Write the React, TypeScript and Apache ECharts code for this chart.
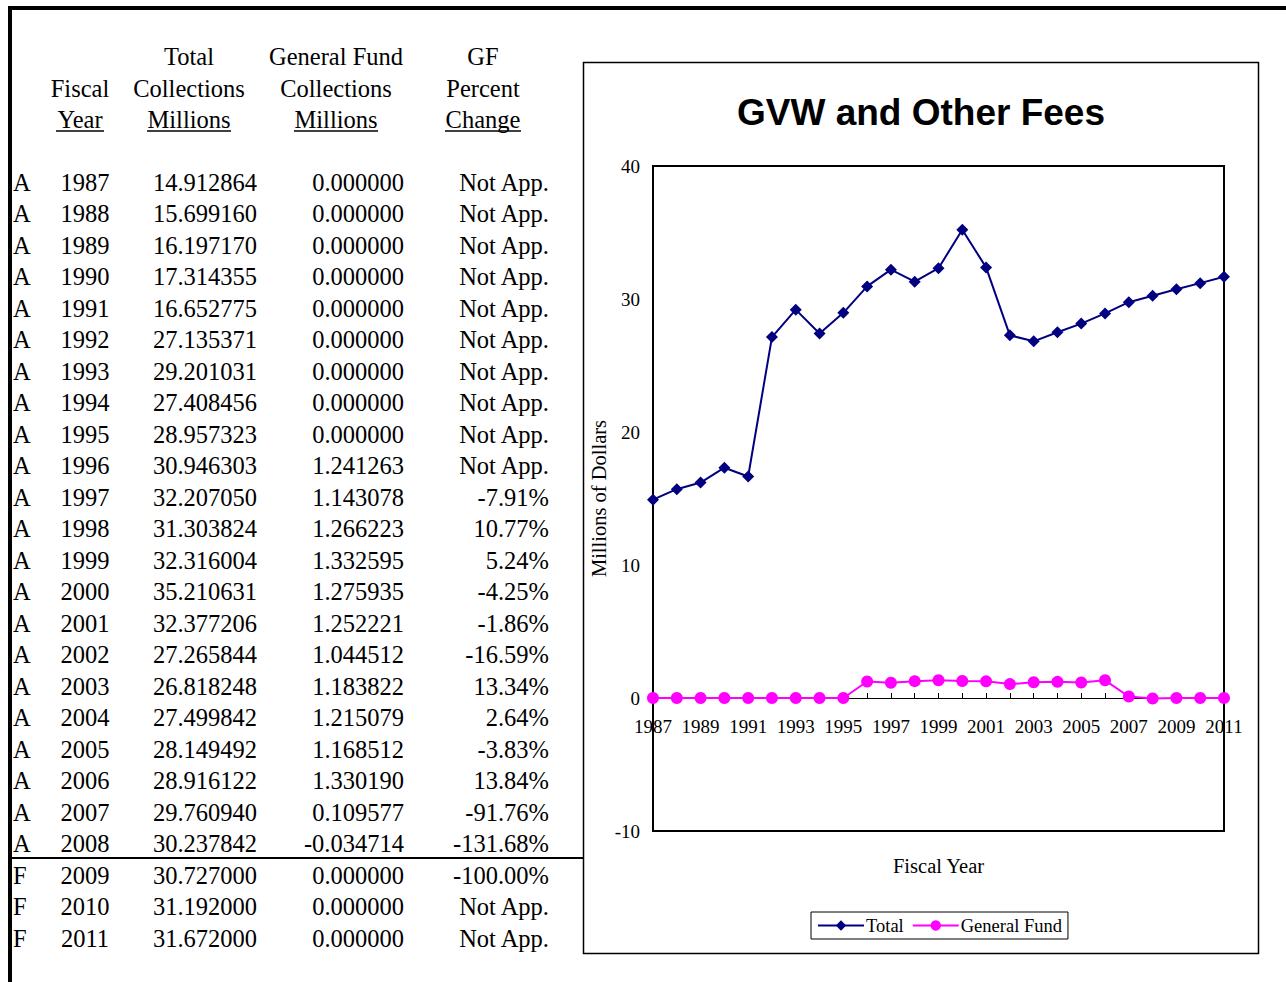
import React, { useEffect, useRef } from "react";
import * as echarts from "echarts";

const years = [
  "1987", "1988", "1989", "1990", "1991", "1992", "1993", "1994", "1995", "1996",
  "1997", "1998", "1999", "2000", "2001", "2002", "2003", "2004", "2005", "2006",
  "2007", "2008", "2009", "2010", "2011",
];
const statusCodes = [
  "A", "A", "A", "A", "A", "A", "A", "A", "A", "A",
  "A", "A", "A", "A", "A", "A", "A", "A", "A", "A",
  "A", "A", "F", "F", "F",
];
const totalCollections = [
  14.912864, 15.69916, 16.19717, 17.314355, 16.652775, 27.135371, 29.201031, 27.408456,
  28.957323, 30.946303, 32.20705, 31.303824, 32.316004, 35.210631, 32.377206, 27.265844,
  26.818248, 27.499842, 28.149492, 28.916122, 29.76094, 30.237842, 30.727, 31.192, 31.672,
];
const gfCollections = [
  0, 0, 0, 0, 0, 0, 0, 0, 0, 1.241263, 1.143078, 1.266223, 1.332595, 1.275935, 1.252221,
  1.044512, 1.183822, 1.215079, 1.168512, 1.33019, 0.109577, -0.034714, 0, 0, 0,
];
const gfPercentChange = [
  "Not App.", "Not App.", "Not App.", "Not App.", "Not App.", "Not App.", "Not App.",
  "Not App.", "Not App.", "Not App.", "-7.91%", "10.77%", "5.24%", "-4.25%", "-1.86%",
  "-16.59%", "13.34%", "2.64%", "-3.83%", "13.84%", "-91.76%", "-131.68%", "-100.00%",
  "Not App.", "Not App.",
];
const yTicks = { min: -10, max: 40, interval: 10 };

const SERIF = "'Liberation Serif', 'Times New Roman', serif";
const SANS = "'Liberation Sans', Arial, sans-serif";

const GRID_TOP = 166;
const GRID_H = 665;

export default function App() {
  const ref = useRef<HTMLDivElement>(null);

  useEffect(() => {
    if (!ref.current) return;
    const chart = echarts.init(ref.current, null, { renderer: "svg" });

    const tfs = 24.5;
    const txt = (text: string, x: number, y: number, align: string, extra: any = {}) => ({
      type: "text",
      x,
      y,
      style: {
        text,
        fill: "#000",
        font: `${tfs}px ${SERIF}`,
        textAlign: align,
        textVerticalAlign: "middle",
        ...extra,
      },
    });
    const uline = (cx: number, w: number) => ({
      type: "line",
      shape: { x1: cx - w / 2, y1: 131, x2: cx + w / 2, y2: 131 },
      style: { stroke: "#000", lineWidth: 1.5 },
    });

    const graphics: any[] = [
      { type: "rect", shape: { x: 8, y: 6, width: 1278, height: 4 }, style: { fill: "#000" } },
      { type: "rect", shape: { x: 8, y: 6, width: 4, height: 976 }, style: { fill: "#000" } },
      {
        type: "line",
        shape: { x1: 10, y1: 858, x2: 583, y2: 858 },
        style: { stroke: "#000", lineWidth: 2 },
      },
      {
        type: "rect",
        shape: { x: 583.5, y: 62.5, width: 675, height: 891 },
        style: { fill: "none", stroke: "#000", lineWidth: 1.5 },
      },
      txt("Total", 189, 56, "center"),
      txt("Collections", 189, 88, "center"),
      txt("Millions", 189, 119, "center"),
      uline(189, 84),
      txt("Fiscal", 80, 88, "center"),
      txt("Year", 80, 119, "center"),
      uline(80, 48),
      txt("General Fund", 336, 56, "center"),
      txt("Collections", 336, 88, "center"),
      txt("Millions", 336, 119, "center"),
      uline(336, 84),
      txt("GF", 483, 56, "center"),
      txt("Percent", 483, 88, "center"),
      txt("Change", 483, 119, "center"),
      uline(483, 76),
      {
        type: "text",
        x: 921,
        y: 112,
        style: {
          text: "GVW and Other Fees",
          fill: "#000",
          font: `bold 37px ${SANS}`,
          textAlign: "center",
          textVerticalAlign: "middle",
        },
      },
      {
        type: "text",
        x: 938.5,
        y: 866,
        style: {
          text: "Fiscal Year",
          fill: "#000",
          font: `20.5px ${SERIF}`,
          textAlign: "center",
          textVerticalAlign: "middle",
        },
      },
    ];

    years.forEach((yr, i) => {
      const y = 182 + i * 31.5;
      graphics.push(txt(statusCodes[i], 13, y, "left"));
      graphics.push(txt(yr, 85, y, "center"));
      graphics.push(txt(totalCollections[i].toFixed(6), 257, y, "right"));
      graphics.push(txt(gfCollections[i].toFixed(6), 404, y, "right"));
      graphics.push(txt(gfPercentChange[i], 549, y, "right"));
    });

    // distance of the zero line above the grid bottom, from the axis range
    const zeroOffset = (GRID_H * (0 - yTicks.min)) / (yTicks.max - yTicks.min);

    chart.setOption({
      animation: false,
      backgroundColor: "#fff",
      textStyle: { fontFamily: SERIF, color: "#000" },
      grid: {
        left: 653,
        top: GRID_TOP,
        width: 571,
        height: GRID_H,
        show: true,
        borderColor: "#000",
        borderWidth: 2,
        backgroundColor: "transparent",
      },
      legend: {
        left: 811,
        top: 912,
        orient: "horizontal",
        padding: [4, 6, 4, 6],
        itemGap: 8,
        itemWidth: 46,
        itemHeight: 13,
        borderColor: "#000",
        borderWidth: 1,
        textStyle: { fontSize: 18.5, fontFamily: SERIF, color: "#000", padding: [0, 0, 0, -3] },
        data: ["Total", "General Fund"],
      },
      xAxis: {
        type: "category",
        data: years,
        boundaryGap: false,
        offset: -zeroOffset,
        axisLine: { onZero: false, lineStyle: { color: "#000", width: 1 } },
        axisTick: { show: true, inside: true, length: 5, interval: 0, lineStyle: { color: "#000" } },
        axisLabel: { interval: 1, fontSize: 19, color: "#000", fontFamily: SERIF, margin: 19 },
        splitLine: { show: false },
      },
      yAxis: {
        type: "value",
        min: yTicks.min,
        max: yTicks.max,
        interval: yTicks.interval,
        name: "Millions of Dollars",
        nameLocation: "middle",
        nameGap: 44,
        nameTextStyle: { fontSize: 20.5, fontFamily: SERIF, color: "#000" },
        axisLine: { show: true, lineStyle: { color: "#000", width: 2 } },
        axisTick: { show: false },
        axisLabel: { fontSize: 19, color: "#000", fontFamily: SERIF, margin: 13 },
        splitLine: { show: false },
      },
      series: [
        {
          name: "Total",
          type: "line",
          data: totalCollections,
          color: "#000080",
          symbol: "diamond",
          symbolSize: 12,
          lineStyle: { width: 2, color: "#000080" },
          itemStyle: { color: "#000080" },
          z: 3,
        },
        {
          name: "General Fund",
          type: "line",
          data: gfCollections,
          color: "#FF00FF",
          symbol: "circle",
          symbolSize: 12,
          lineStyle: { width: 2, color: "#FF00FF" },
          itemStyle: { color: "#FF00FF" },
          z: 4,
        },
      ],
      graphic: graphics,
    });

    return () => chart.dispose();
  }, []);

  return (
    <div
      ref={ref}
      style={{ position: "absolute", left: 0, top: 0, width: 1286, height: 982, background: "#fff" }}
    />
  );
}
